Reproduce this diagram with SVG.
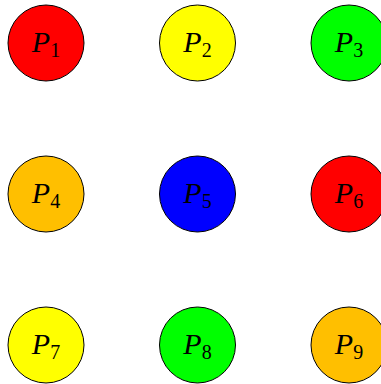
<svg xmlns="http://www.w3.org/2000/svg" width="381" height="384" viewBox="0 0 381 384">
<style>
circle{stroke:#000;stroke-width:1}
text{font-family:"Liberation Serif","DejaVu Serif",serif;font-size:30px;text-anchor:middle;fill:#000}
.p{font-style:italic}
.s{font-size:20px;font-style:normal}
.red{fill:#ff0000}.yel{fill:#ffff00}.grn{fill:#00ff00}.org{fill:#ffbf00}.blu{fill:#0000ff}
</style>
<rect width="381" height="384" fill="#fff"/>
<g id="P1"><circle class="red" cx="46" cy="43" r="38"/><text x="46" y="52"><tspan class="p">P</tspan><tspan class="s" dy="4.5">1</tspan></text></g>
<g id="P2"><circle class="yel" cx="197.5" cy="43" r="38"/><text x="197.5" y="52"><tspan class="p">P</tspan><tspan class="s" dy="4.5">2</tspan></text></g>
<g id="P3"><circle class="grn" cx="349" cy="43" r="38"/><text x="349" y="52"><tspan class="p">P</tspan><tspan class="s" dy="4.5">3</tspan></text></g>
<g id="P4"><circle class="org" cx="46" cy="194" r="38"/><text x="46" y="203"><tspan class="p">P</tspan><tspan class="s" dy="4.5">4</tspan></text></g>
<g id="P5"><circle class="blu" cx="197.5" cy="194" r="38"/><text x="197.5" y="203"><tspan class="p">P</tspan><tspan class="s" dy="4.5">5</tspan></text></g>
<g id="P6"><circle class="red" cx="349" cy="194" r="38"/><text x="349" y="203"><tspan class="p">P</tspan><tspan class="s" dy="4.5">6</tspan></text></g>
<g id="P7"><circle class="yel" cx="46" cy="345" r="38"/><text x="46" y="354"><tspan class="p">P</tspan><tspan class="s" dy="4.5">7</tspan></text></g>
<g id="P8"><circle class="grn" cx="197.5" cy="345" r="38"/><text x="197.5" y="354"><tspan class="p">P</tspan><tspan class="s" dy="4.5">8</tspan></text></g>
<g id="P9"><circle class="org" cx="349" cy="345" r="38"/><text x="349" y="354"><tspan class="p">P</tspan><tspan class="s" dy="4.5">9</tspan></text></g>
<g id="connectors"></g>
</svg>
